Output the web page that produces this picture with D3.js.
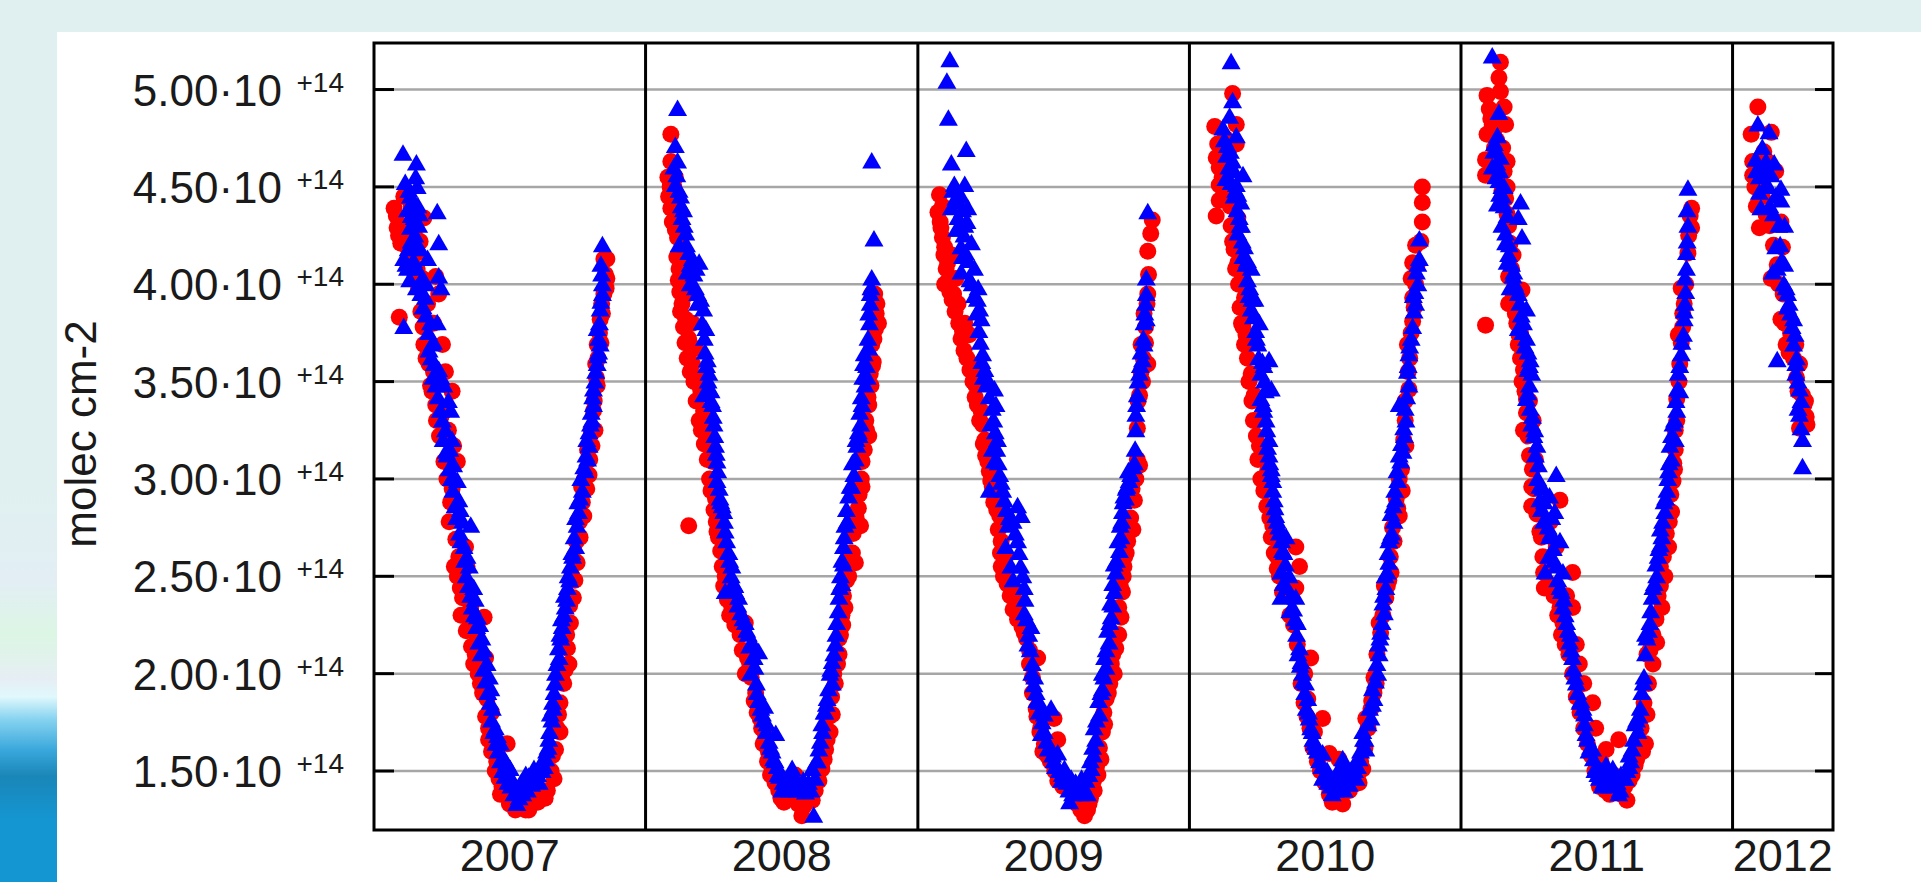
<!doctype html>
<head>
  <script src="https://cdnjs.cloudflare.com/ajax/libs/d3/7.8.5/d3.min.js"></script>
  <style>
    body { margin: 0; background: #e0f0f0; overflow: hidden; }
    svg { display: block; }
    text { font-family: "Liberation Sans", Arial, Helvetica, sans-serif; fill: #1a1a1a; }
  </style>
</head>
<body>
  <svg class="chart" width="1921" height="882"></svg>
  <script type="text/javascript">
    // values in units of 1e14 molec cm-2, x is day of year
    var years = [2007, 2008, 2009, 2010, 2011, 2012]
    var yTicks = [1.5, 2.0, 2.5, 3.0, 3.5, 4.0, 4.5, 5.0]
    var yTickLabels = ["1.50·10", "2.00·10", "2.50·10", "3.00·10", "3.50·10", "4.00·10", "4.50·10", "5.00·10"]
    var tickExponent = "+14"
    var yTitle = "molec cm-2"

    var red2007 = [[27,4.39],[31,4.29],[36,4.21],[40,4.45],[45,4.26],[54,4.26],[58,4.16],[67,4.34],[34,3.83],[87,3.95],[83,4.04],[58,4.08],[65,4.03],[72,3.90],[67,3.69],[74,3.59],[76,3.48],[92,3.69],[83,3.38],[90,3.32],[105,3.45],[107,3.17],[94,3.09],[112,3.09],[101,2.78],[110,2.69],[116,2.44],[119,2.39],[123,2.65],[130,2.34],[148,2.29],[134,2.05],[150,2.08],[143,1.95],[152,1.87],[154,1.72],[161,1.61],[168,1.46],[179,1.64],[177,1.38],[188,1.35],[204,1.30],[215,1.35],[233,1.40],[242,1.46],[244,1.61],[248,1.79],[255,1.95],[260,2.13],[264,2.26],[268,2.39],[273,2.57],[277,2.70],[282,2.81],[289,3.02],[293,3.17],[295,3.35],[300,3.48],[298,3.59],[300,3.69],[304,3.82],[309,3.95],[313,4.03],[313,4.13],[309,4.13],
      [50,4.40],[62,4.22],[80,3.80],[96,3.55],[100,3.25],[125,2.55],[138,2.20],[158,1.80],[165,1.55],[172,1.42],[195,1.32],[225,1.38],[250,1.70],[262,2.05],[270,2.48],[280,2.88],[286,2.95],[297,3.25],[303,3.75],[306,3.90],
      [30,4.35],[33,4.25],[38,4.30],[43,4.20],[47,4.15],[52,4.18],[55,4.05],[60,3.98],[63,3.86],[66,3.78],[70,3.62],[72,3.70],[78,3.45],[80,3.55],[84,3.30],[88,3.22],[95,3.35],[98,3.00],[103,2.88],[105,2.95],[108,2.55],[112,2.50],[114,2.60],[117,2.30],[120,2.45],[124,2.22],[128,2.28],[131,2.14],[136,2.10],[140,2.00],[146,1.90],[150,1.78],[154,1.66],[158,1.60],[163,1.50],[170,1.38],[175,1.45],[182,1.33],[190,1.30],[198,1.31],[208,1.30],[220,1.34],[230,1.36],[238,1.50],[240,1.58],[246,1.72],[250,1.85],[252,1.98],[257,2.02],[259,2.20],[263,2.35],[266,2.50],[270,2.58],[272,2.68],[276,2.78],[279,2.96],[283,3.00],[287,3.15],[290,3.10],[292,3.25],[296,3.40],[299,3.52],[301,3.62],[305,3.70],[307,3.85],[311,4.05],[312,3.98]]
    var blue2007 = [[39,4.67],[57,4.62],[56,4.55],[58,4.50],[49,4.45],[45,4.38],[54,4.34],[49,4.29],[85,4.37],[87,4.21],[40,4.13],[45,4.08],[58,4.08],[72,4.13],[40,3.78],[65,4.03],[69,3.93],[87,4.04],[90,3.98],[76,3.80],[85,3.80],[78,3.69],[81,3.59],[87,3.56],[94,3.48],[103,3.35],[96,3.25],[105,3.20],[98,3.12],[107,3.07],[112,2.99],[114,2.89],[119,2.78],[130,2.76],[121,2.65],[128,2.55],[134,2.44],[139,2.29],[145,2.18],[152,2.05],[157,1.92],[159,1.82],[163,1.72],[170,1.64],[175,1.56],[183,1.51],[192,1.40],[192,1.33],[204,1.48],[206,1.40],[215,1.51],[224,1.51],[228,1.56],[235,1.66],[237,1.79],[242,1.90],[244,2.00],[248,2.13],[253,2.24],[257,2.34],[260,2.44],[264,2.55],[271,2.65],[273,2.76],[275,2.83],[280,2.94],[284,3.04],[289,3.17],[291,3.28],[295,3.38],[295,3.46],[300,3.59],[304,3.69],[300,3.77],[304,3.87],[307,3.95],[307,4.20],
      [52,4.42],[60,4.30],[62,4.18],[70,4.00],[80,3.70],[90,3.52],[100,3.40],[102,3.15],[116,2.84],[125,2.60],[136,2.38],[142,2.25],[148,2.12],[155,1.98],[166,1.68],[178,1.54],[186,1.45],[198,1.44],[210,1.45],[220,1.48],[232,1.60],[240,1.85],[251,2.18],[267,2.60],[287,3.10],[293,3.30],[302,3.65],[306,4.05],[305,4.10],
      [42,4.52],[47,4.48],[50,4.35],[53,4.40],[55,4.25],[56,4.20],[59,4.40],[61,4.36],[50,4.22],[46,4.18],[43,4.10],[48,4.02],[53,4.12],[57,3.98],[63,3.95],[66,3.88],[70,3.84],[73,3.75],[74,3.66],[77,3.62],[79,3.52],[83,3.48],[86,3.42],[89,3.35],[92,3.30],[93,3.20],[97,3.14],[101,3.05],[104,3.00],[106,2.94],[109,2.86],[111,2.80],[115,2.72],[117,2.68],[122,2.58],[124,2.50],[127,2.45],[130,2.40],[132,2.34],[135,2.30],[138,2.24],[141,2.16],[144,2.10],[147,2.02],[150,1.96],[153,1.90],[156,1.85],[158,1.76],[161,1.70],[164,1.64],[167,1.60],[170,1.55],[173,1.50],[176,1.47],[180,1.44],[184,1.42],[188,1.38],[195,1.36],[200,1.38],[202,1.42],[208,1.47],[212,1.43],[218,1.46],[222,1.44],[226,1.50],[229,1.52],[231,1.56],[234,1.62],[236,1.70],[239,1.76],[241,1.82],[243,1.95],[246,2.05],[249,2.08],[250,2.20],[252,2.28],[255,2.30],[256,2.40],[259,2.38],[261,2.50],[263,2.48],[266,2.62],[269,2.70],[271,2.80],[274,2.88],[277,2.90],[278,3.00],[282,3.06],[285,3.12],[286,3.20],[289,3.24],[292,3.34],[294,3.42],[297,3.50],[298,3.55],[301,3.63],[302,3.72],[303,3.80],[305,3.91],[307,4.00]]

    var red2008 = [[34,4.77],[34,4.63],[40,4.55],[31,4.45],[34,4.39],[45,4.34],[43,4.24],[49,4.19],[45,4.08],[49,4.00],[49,3.90],[54,3.82],[63,3.80],[58,3.72],[67,3.67],[63,3.59],[74,3.46],[78,3.35],[85,3.17],[90,3.09],[94,2.90],[58,2.76],[96,2.73],[101,2.63],[107,2.50],[116,2.34],[134,2.26],[134,2.00],[148,1.90],[154,1.77],[161,1.69],[170,1.51],[179,1.40],[201,1.48],[210,1.27],[224,1.35],[237,1.51],[242,1.61],[251,1.79],[255,1.95],[260,2.10],[260,2.18],[268,2.34],[273,2.50],[282,2.57],[289,2.76],[291,2.96],[291,3.09],[300,3.22],[300,3.38],[302,3.54],[304,3.69],[309,3.77],[313,3.80],[311,3.90],[304,3.95],
      [38,4.50],[52,4.12],[56,3.95],[70,3.52],[82,3.25],[100,2.80],[112,2.42],[125,2.30],[140,2.05],[165,1.60],[190,1.38],[215,1.42],[248,1.70],[265,2.25],[278,2.62],[286,2.85],[296,3.30],[306,3.60],
      [30,4.55],[33,4.50],[36,4.42],[36,4.32],[40,4.28],[42,4.14],[44,4.02],[46,3.96],[47,3.86],[51,3.78],[53,3.70],[56,3.62],[60,3.55],[65,3.50],[68,3.40],[72,3.30],[75,3.25],[79,3.18],[83,3.10],[86,3.00],[88,2.94],[92,2.84],[95,2.78],[98,2.70],[103,2.55],[105,2.45],[110,2.38],[113,2.30],[120,2.25],[127,2.20],[130,2.12],[137,2.08],[142,1.98],[146,1.86],[150,1.80],[156,1.72],[158,1.64],[164,1.55],[168,1.48],[174,1.44],[182,1.36],[186,1.34],[195,1.36],[205,1.33],[213,1.32],[218,1.35],[228,1.40],[233,1.45],[240,1.56],[244,1.66],[247,1.78],[250,1.88],[253,2.00],[258,2.05],[262,2.20],[264,2.30],[266,2.40],[270,2.48],[275,2.62],[279,2.72],[283,2.80],[287,2.92],[290,3.00],[294,3.15],[297,3.25],[299,3.42],[303,3.48],[305,3.58],[307,3.72],[310,3.85],[308,3.95]]
    var blue2008 = [[43,4.90],[40,4.71],[43,4.63],[40,4.51],[47,4.45],[49,4.34],[54,4.26],[63,4.13],[72,4.11],[56,4.06],[67,3.98],[78,3.87],[81,3.77],[83,3.61],[85,3.54],[78,3.43],[90,3.38],[92,3.28],[94,3.17],[96,3.09],[96,2.99],[105,2.83],[107,2.73],[116,2.55],[107,2.42],[125,2.39],[134,2.26],[143,2.16],[152,2.11],[141,2.00],[150,1.90],[157,1.79],[163,1.74],[175,1.69],[172,1.56],[183,1.40],[197,1.51],[206,1.43],[224,1.51],[226,1.27],[233,1.61],[237,1.74],[244,1.87],[251,1.95],[253,2.10],[257,2.26],[260,2.39],[262,2.50],[266,2.65],[268,2.76],[273,2.91],[280,3.02],[284,3.17],[289,3.28],[291,3.38],[295,3.48],[293,3.59],[300,3.67],[300,3.85],[304,4.03],[307,4.23],[304,4.63],
      [45,4.20],[60,4.00],[70,3.90],[88,3.45],[100,2.90],[112,2.62],[120,2.45],[138,2.20],[146,2.08],[160,1.83],[168,1.62],[178,1.48],[190,1.45],[212,1.45],[230,1.55],[240,1.80],[248,2.00],[264,2.58],[277,2.96],[287,3.22],[298,3.52],[302,3.95],
      [38,4.60],[42,4.56],[45,4.48],[48,4.40],[51,4.38],[52,4.30],[55,4.20],[58,4.16],[60,4.10],[65,4.05],[68,4.08],[70,3.95],[74,3.92],[76,3.80],[79,3.72],[80,3.65],[82,3.58],[84,3.50],[86,3.46],[88,3.40],[91,3.32],[93,3.22],[95,3.13],[97,3.04],[99,2.95],[101,2.88],[103,2.86],[106,2.78],[109,2.68],[111,2.62],[113,2.58],[115,2.50],[118,2.46],[121,2.42],[124,2.35],[128,2.31],[131,2.28],[136,2.22],[140,2.14],[144,2.08],[147,2.03],[149,1.95],[152,1.86],[155,1.82],[159,1.76],[162,1.70],[166,1.65],[170,1.60],[174,1.55],[177,1.52],[180,1.47],[185,1.44],[188,1.42],[193,1.40],[196,1.44],[200,1.47],[204,1.40],[209,1.42],[215,1.39],[219,1.44],[222,1.40],[228,1.46],[231,1.55],[235,1.65],[238,1.70],[241,1.80],[243,1.84],[246,1.92],[249,2.02],[251,2.06],[255,2.15],[256,2.20],[259,2.32],[261,2.44],[264,2.46],[266,2.56],[267,2.70],[270,2.84],[271,2.78],[275,2.96],[278,3.08],[282,3.10],[283,3.20],[286,3.24],[288,3.34],[290,3.42],[292,3.52],[294,3.64],[297,3.58],[299,3.72],[301,3.80],[302,3.90],[303,3.98]]

    var red2009 = [[29,4.46],[27,4.37],[31,4.29],[36,4.19],[40,4.11],[36,4.00],[51,4.03],[54,3.90],[58,3.72],[69,3.74],[72,3.59],[78,3.48],[85,3.35],[87,3.28],[94,3.09],[98,2.99],[110,2.81],[112,2.68],[112,2.55],[125,2.44],[132,2.37],[143,2.21],[161,2.08],[154,1.98],[159,1.82],[183,1.77],[170,1.64],[188,1.66],[192,1.48],[215,1.40],[219,1.30],[224,1.27],[237,1.40],[246,1.56],[251,1.74],[253,1.87],[264,2.00],[266,2.13],[273,2.29],[275,2.42],[277,2.55],[284,2.73],[289,2.74],[291,2.89],[298,3.07],[295,3.26],[298,3.43],[309,3.59],[300,3.69],[304,3.85],[309,3.95],[309,4.17],[313,4.26],[315,4.33],
      [33,4.40],[45,4.15],[48,3.95],[63,3.80],[75,3.55],[90,3.20],[104,2.90],[118,2.60],[138,2.30],[150,2.12],[165,1.72],[178,1.55],[200,1.42],[230,1.33],[242,1.48],[258,1.95],[270,2.20],[280,2.62],[293,3.00],[302,3.50],[306,3.78],
      [30,4.32],[33,4.24],[35,4.15],[38,4.08],[41,4.02],[43,3.96],[46,3.92],[50,3.86],[55,3.80],[60,3.76],[62,3.66],[66,3.62],[70,3.56],[74,3.50],[77,3.42],[80,3.38],[83,3.30],[88,3.18],[91,3.12],[96,3.04],[100,2.96],[102,2.88],[106,2.84],[108,2.74],[111,2.62],[115,2.50],[120,2.46],[124,2.40],[128,2.33],[134,2.28],[140,2.24],[146,2.18],[150,2.05],[154,1.90],[160,1.78],[164,1.70],[168,1.60],[174,1.58],[180,1.62],[184,1.50],[188,1.45],[195,1.42],[205,1.40],[210,1.35],[214,1.33],[220,1.30],[228,1.30],[232,1.36],[236,1.45],[240,1.52],[244,1.62],[248,1.70],[250,1.80],[256,1.90],[260,2.05],[262,2.10],[268,2.20],[270,2.34],[272,2.45],[276,2.50],[278,2.60],[282,2.68],[286,2.80],[288,2.95],[290,3.00],[295,3.10],[296,3.40],[300,3.55],[303,3.62],[306,3.70],[308,3.90],[310,4.05]]
    var blue2009 = [[43,5.15],[39,5.04],[41,4.85],[65,4.69],[45,4.62],[49,4.51],[63,4.51],[58,4.45],[67,4.39],[45,4.39],[54,4.34],[72,4.21],[58,4.19],[76,4.08],[58,4.06],[81,3.98],[83,3.87],[85,3.82],[87,3.64],[90,3.56],[103,3.46],[105,3.38],[98,3.28],[107,3.20],[103,3.09],[110,3.02],[96,2.94],[116,2.89],[134,2.86],[139,2.81],[121,2.76],[134,2.68],[125,2.55],[143,2.44],[143,2.31],[152,2.24],[154,2.05],[159,1.90],[170,1.79],[179,1.82],[166,1.69],[175,1.61],[188,1.59],[197,1.51],[206,1.46],[204,1.34],[215,1.40],[228,1.38],[233,1.51],[239,1.66],[244,1.79],[248,1.92],[253,2.03],[257,2.16],[260,2.29],[264,2.42],[266,2.52],[271,2.63],[273,2.70],[275,2.83],[277,2.91],[284,2.99],[291,3.08],[293,3.25],[293,3.33],[295,3.43],[298,3.54],[302,3.61],[304,3.69],[304,3.80],[307,3.82],[307,4.03],[309,4.37],
      [52,4.28],[62,4.25],[70,4.02],[80,3.92],[95,3.50],[100,3.15],[118,2.65],[128,2.48],[148,2.15],[157,1.98],[163,1.85],[183,1.55],[193,1.45],[210,1.43],[222,1.42],[236,1.58],[250,1.98],[262,2.35],[280,2.95],[300,3.65],[306,3.90],
      [47,4.48],[51,4.44],[55,4.42],[60,4.38],[63,4.30],[66,4.32],[56,4.28],[60,4.14],[64,4.16],[68,4.12],[73,4.00],[76,3.94],[79,3.85],[82,3.76],[84,3.70],[86,3.60],[88,3.52],[92,3.48],[96,3.42],[100,3.36],[102,3.30],[104,3.24],[106,3.15],[108,3.08],[112,2.98],[114,2.94],[119,2.84],[123,2.80],[128,2.78],[131,2.72],[136,2.62],[138,2.55],[141,2.50],[144,2.38],[146,2.28],[149,2.20],[151,2.12],[153,2.00],[156,1.94],[160,1.86],[163,1.80],[167,1.75],[170,1.70],[173,1.65],[178,1.62],[181,1.58],[185,1.52],[190,1.50],[194,1.48],[200,1.44],[203,1.40],[208,1.38],[212,1.44],[218,1.38],[220,1.46],[224,1.40],[226,1.45],[230,1.48],[232,1.55],[235,1.62],[237,1.72],[240,1.76],[243,1.86],[246,1.90],[248,2.00],[251,2.08],[253,2.12],[255,2.22],[258,2.26],[259,2.36],[262,2.46],[264,2.56],[267,2.58],[269,2.68],[272,2.76],[274,2.78],[276,2.88],[279,2.90],[281,2.96],[283,3.04],[286,3.02],[289,3.06],[292,3.15],[294,3.38],[296,3.50],[299,3.58],[303,3.72],[305,3.85],[307,3.95]]

    var red2010 = [[58,4.98],[34,4.81],[36,4.65],[63,4.82],[63,4.72],[40,4.51],[40,4.43],[36,4.35],[63,4.42],[65,4.34],[65,4.11],[72,4.03],[74,3.93],[76,3.74],[74,3.69],[83,3.54],[87,3.43],[94,3.17],[105,3.04],[112,2.76],[143,2.65],[121,2.50],[148,2.55],[143,2.44],[163,2.08],[159,1.87],[179,1.77],[188,1.59],[201,1.56],[206,1.33],[233,1.51],[237,1.77],[244,1.82],[251,1.95],[257,2.21],[264,2.39],[271,2.52],[275,2.68],[282,2.81],[286,2.94],[291,3.17],[295,3.46],[293,3.69],[300,3.81],[300,3.93],[298,4.03],[300,4.11],[313,4.32],[313,4.42],[313,4.50],
      [48,4.75],[52,4.60],[55,4.40],[80,3.85],[90,3.30],[100,3.10],[118,2.60],[130,2.45],[155,2.00],[168,1.70],[195,1.45],[215,1.40],[228,1.44],[248,1.90],[266,2.45],[280,2.85],[290,3.30],[304,4.20],
      [38,4.72],[40,4.60],[44,4.55],[46,4.48],[50,4.45],[56,4.30],[58,4.22],[60,4.18],[62,4.08],[66,4.00],[68,3.88],[70,3.80],[72,3.78],[78,3.62],[80,3.50],[84,3.40],[86,3.30],[90,3.22],[92,3.10],[96,3.00],[100,2.94],[104,2.86],[108,2.80],[110,2.70],[114,2.62],[118,2.54],[125,2.42],[135,2.30],[140,2.25],[145,2.15],[150,1.95],[154,1.85],[158,1.78],[162,1.72],[166,1.62],[172,1.55],[176,1.50],[182,1.44],[188,1.38],[192,1.34],[200,1.38],[210,1.42],[220,1.45],[226,1.48],[230,1.55],[236,1.62],[240,1.72],[245,1.86],[248,1.98],[252,2.10],[255,2.26],[260,2.30],[262,2.45],[268,2.48],[270,2.60],[273,2.75],[278,2.90],[282,3.00],[285,3.05],[288,3.20],[290,3.40],[294,3.55],[296,3.62],[298,3.75],[302,3.88],[304,4.00],[306,4.10],[311,4.22]]
    var blue2010 = [[56,5.14],[58,4.94],[54,4.86],[45,4.80],[63,4.76],[51,4.71],[58,4.63],[72,4.56],[49,4.54],[63,4.51],[69,4.42],[67,4.34],[65,4.26],[74,4.19],[83,4.08],[81,3.98],[83,3.87],[94,3.80],[92,3.69],[107,3.61],[96,3.54],[110,3.46],[96,3.41],[103,3.30],[107,3.20],[107,3.12],[112,2.99],[114,2.89],[116,2.81],[130,2.70],[125,2.63],[123,2.52],[134,2.50],[123,2.39],[143,2.39],[145,2.26],[148,2.13],[152,2.00],[159,1.87],[161,1.77],[166,1.66],[179,1.59],[179,1.46],[192,1.38],[206,1.56],[215,1.43],[224,1.46],[228,1.56],[237,1.61],[244,1.77],[248,1.87],[253,2.00],[255,2.10],[257,2.21],[262,2.31],[264,2.44],[268,2.57],[268,2.68],[275,2.78],[277,2.89],[280,2.99],[284,3.09],[289,3.22],[291,3.30],[282,3.38],[295,3.48],[295,3.64],[304,3.90],[307,4.00],[309,4.13],[309,4.23],
      [60,4.45],[70,4.30],[78,4.12],[88,3.92],[100,3.58],[100,3.35],[110,3.05],[120,2.75],[135,2.32],[150,2.06],[156,1.95],[170,1.62],[185,1.50],[198,1.45],[210,1.50],[220,1.52],[234,1.66],[246,1.92],[260,2.36],[272,2.72],[287,3.14],[293,3.55],[300,3.78],[302,3.86],
      [47,4.74],[50,4.66],[53,4.60],[55,4.68],[56,4.52],[60,4.58],[62,4.48],[65,4.46],[64,4.38],[68,4.30],[71,4.22],[72,4.14],[76,4.10],[78,4.02],[80,3.94],[84,3.92],[86,3.83],[89,3.76],[90,3.72],[93,3.62],[98,3.60],[101,3.50],[102,3.45],[99,3.38],[104,3.25],[105,3.16],[108,3.08],[110,3.02],[112,2.94],[115,2.85],[118,2.78],[121,2.72],[124,2.68],[127,2.62],[129,2.56],[126,2.46],[131,2.44],[137,2.40],[140,2.33],[142,2.28],[144,2.20],[146,2.10],[149,2.04],[153,1.96],[155,1.90],[157,1.82],[160,1.80],[163,1.72],[165,1.70],[168,1.64],[172,1.60],[175,1.55],[178,1.52],[182,1.48],[186,1.44],[190,1.42],[194,1.44],[196,1.40],[200,1.48],[203,1.52],[206,1.46],[208,1.40],[212,1.48],[217,1.50],[222,1.50],[226,1.52],[230,1.60],[233,1.70],[236,1.66],[240,1.74],[242,1.82],[246,1.84],[250,1.96],[252,2.05],[254,2.15],[256,2.18],[259,2.26],[261,2.40],[263,2.50],[266,2.52],[267,2.62],[270,2.70],[271,2.82],[274,2.86],[276,2.94],[279,3.04],[282,3.12],[285,3.18],[288,3.26],[290,3.36],[292,3.42],[294,3.58],[296,3.68],[298,3.72],[301,3.94],[303,3.96],[305,4.06],[307,4.10]]

    var red2011 = [[33,3.79],[53,5.14],[51,5.06],[53,4.99],[35,4.97],[58,4.91],[60,4.82],[35,4.77],[33,4.64],[62,4.63],[33,4.56],[62,4.36],[66,4.21],[64,4.04],[82,3.97],[64,3.90],[73,3.85],[77,3.69],[84,3.56],[88,3.41],[84,3.25],[97,3.30],[95,2.96],[95,2.86],[133,2.89],[106,2.73],[128,2.65],[111,2.52],[150,2.52],[133,2.34],[137,2.26],[150,2.34],[159,2.05],[177,1.85],[181,1.72],[195,1.61],[212,1.66],[223,1.35],[234,1.53],[248,1.64],[250,1.79],[252,1.95],[263,2.16],[270,2.34],[274,2.50],[279,2.65],[283,2.83],[285,2.99],[288,3.15],[290,3.41],[294,3.59],[292,3.74],[296,3.98],[305,4.16],[310,4.29],[310,4.39],
      [40,4.85],[45,4.70],[55,4.48],[70,4.15],[80,3.75],[92,3.40],[100,3.10],[120,2.78],[142,2.40],[155,2.15],[165,1.95],[188,1.55],[205,1.48],[218,1.45],[244,1.60],[258,2.05],[268,2.45],[287,3.05],[298,3.85],
      [38,4.90],[42,4.82],[44,4.78],[48,4.74],[56,4.70],[58,4.58],[62,4.50],[60,4.44],[64,4.30],[68,4.08],[70,3.95],[75,3.80],[78,3.74],[80,3.62],[82,3.50],[86,3.45],[88,3.34],[90,3.22],[92,3.12],[96,3.05],[98,2.95],[102,2.82],[108,2.70],[110,2.60],[112,2.44],[118,2.46],[125,2.40],[130,2.30],[135,2.20],[140,2.15],[145,2.10],[150,2.00],[155,1.88],[160,1.80],[165,1.72],[170,1.64],[175,1.58],[180,1.50],[186,1.42],[194,1.40],[200,1.38],[210,1.40],[216,1.38],[220,1.42],[226,1.45],[230,1.48],[236,1.56],[240,1.60],[242,1.72],[246,1.85],[250,2.10],[254,2.12],[258,2.20],[262,2.28],[265,2.40],[268,2.55],[272,2.60],[276,2.72],[280,2.78],[282,2.92],[286,3.08],[288,3.25],[290,3.30],[293,3.50],[296,3.70],[298,3.78],[300,3.90],[302,4.00],[306,4.25],[308,4.35]]
    var blue2011 = [[42,5.17],[51,4.88],[49,4.76],[44,4.68],[53,4.65],[42,4.60],[51,4.53],[58,4.50],[49,4.41],[80,4.42],[77,4.34],[82,4.24],[55,4.30],[60,4.21],[62,4.11],[71,4.06],[66,3.98],[77,3.95],[88,3.87],[77,3.77],[88,3.72],[93,3.61],[95,3.54],[88,3.41],[95,3.28],[102,3.17],[104,3.07],[128,3.02],[106,2.89],[119,2.91],[126,2.83],[111,2.78],[119,2.70],[133,2.68],[113,2.52],[137,2.52],[133,2.44],[142,2.26],[146,2.16],[150,2.08],[155,1.95],[166,1.79],[168,1.69],[177,1.61],[186,1.46],[195,1.53],[204,1.51],[212,1.38],[221,1.46],[230,1.61],[234,1.74],[241,1.82],[246,1.98],[250,2.18],[254,2.26],[257,2.39],[263,2.50],[265,2.60],[270,2.70],[274,2.83],[277,2.94],[279,3.04],[281,3.17],[285,3.28],[290,3.35],[292,3.54],[296,3.64],[299,3.74],[301,3.90],[301,4.03],[303,4.16],[305,4.30],[305,4.49],
      [47,4.55],[56,4.45],[64,4.15],[72,4.00],[84,3.80],[90,3.65],[92,3.48],[98,3.22],[110,2.95],[122,2.80],[125,2.58],[138,2.38],[148,2.12],[160,1.85],[172,1.60],[182,1.52],[192,1.44],[200,1.42],[215,1.48],[226,1.52],[238,1.70],[248,2.10],[268,2.66],[283,3.10],[288,3.20],[294,3.45],[300,3.82],
      [45,4.72],[48,4.62],[52,4.58],[55,4.50],[52,4.46],[58,4.40],[62,4.35],[60,4.26],[65,4.20],[68,4.10],[70,4.04],[74,3.98],[79,3.90],[81,3.84],[83,3.75],[86,3.68],[90,3.56],[92,3.58],[90,3.44],[93,3.36],[96,3.32],[99,3.25],[100,3.12],[103,3.00],[106,2.96],[108,2.84],[112,2.88],[115,2.80],[117,2.75],[121,2.72],[124,2.64],[118,2.60],[128,2.55],[130,2.48],[135,2.42],[137,2.34],[140,2.30],[144,2.22],[147,2.20],[151,2.02],[153,1.98],[157,1.90],[161,1.86],[164,1.82],[166,1.74],[170,1.66],[174,1.62],[178,1.56],[180,1.50],[184,1.48],[188,1.50],[190,1.42],[197,1.46],[202,1.44],[207,1.48],[210,1.44],[214,1.40],[218,1.46],[223,1.50],[226,1.58],[228,1.55],[232,1.66],[236,1.76],[239,1.78],[243,1.90],[245,1.95],[248,2.20],[252,2.22],[255,2.32],[258,2.44],[260,2.46],[262,2.56],[266,2.64],[268,2.74],[271,2.78],[273,2.88],[275,2.90],[278,3.00],[280,3.08],[283,3.22],[287,3.30],[289,3.40],[291,3.46],[294,3.58],[297,3.70],[300,3.86],[302,3.96],[303,4.08],[304,4.22],[304,4.38]]

    var red2012 = [[34,4.91],[25,4.77],[27,4.63],[52,4.78],[27,4.56],[36,4.29],[65,4.32],[67,4.19],[52,4.03],[65,3.82],[72,3.69],[90,3.59],[94,3.43],[90,3.26],[99,3.32],[47,4.63],[58,4.58],[85,3.69],[40,4.45],[60,4.10],[78,3.75],[96,3.38],
      [30,4.50],[32,4.40],[38,4.52],[42,4.68],[45,4.36],[50,4.30],[55,4.20],[62,4.00],[68,3.95],[70,3.80],[76,3.65],[82,3.62],[86,3.52],[88,3.45],[92,3.36],[96,3.28],[100,3.28],[98,3.40]]
    var blue2012 = [[34,4.82],[49,4.78],[31,4.64],[45,4.63],[56,4.62],[36,4.55],[52,4.56],[65,4.49],[36,4.47],[65,4.43],[38,4.39],[58,4.19],[60,4.08],[54,4.06],[69,4.00],[76,3.90],[82,3.82],[60,3.61],[82,3.69],[85,3.59],[90,3.46],[90,3.33],[94,3.20],[94,3.06],[85,3.54],[44,4.50],[70,4.30],[74,3.95],
      [32,4.58],[40,4.70],[42,4.58],[48,4.50],[50,4.40],[55,4.36],[58,4.45],[62,4.30],[64,4.20],[66,4.12],[70,4.10],[72,3.98],[74,3.88],[78,3.85],[80,3.78],[84,3.74],[86,3.62],[88,3.50],[92,3.40],[88,3.36],[92,3.26]]

    var redSeries = [red2007, red2008, red2009, red2010, red2011, red2012]
    var blueSeries = [blue2007, blue2008, blue2009, blue2010, blue2011, blue2012]

    function toPoints(series) {
      var out = []
      series.forEach((arr, i) => arr.forEach(p => out.push({date: new Date(years[i], 0, 1 + p[0]), value: p[1]})))
      return out
    }
    var redPoints = toPoints(redSeries)
    var bluePoints = toPoints(blueSeries)

    var svg = d3.select("svg.chart")

    // page background pieces
    var defs = svg.append("defs")
    var grad = defs.append("linearGradient").attr("id", "strip").attr("x1", 0).attr("y1", 0).attr("x2", 0).attr("y2", 1)
    var stops = [[0, "#e0f0f0"], [0.55, "#e0f0f0"], [0.66, "#e2eef4"], [0.72, "#dcf6e4"], [0.77, "#e6eef4"], [0.79, "#e0f8fc"], [0.815, "#88d4f0"], [0.85, "#3aa8dc"], [0.88, "#1a86b8"], [0.93, "#1496d2"], [1, "#1496d2"]]
    stops.forEach(s => grad.append("stop").attr("offset", s[0]).attr("stop-color", s[1]))
    svg.append("rect").attr("x", 0).attr("y", 0).attr("width", 57).attr("height", 882).style("fill", "url(#strip)")
    svg.append("rect").attr("x", 57).attr("y", 32).attr("width", 1864).attr("height", 850).style("fill", "#fff")

    var pLeft = 374, pRight = 1833, pTop = 43, pBottom = 830
    var xScale = d3.scaleTime().domain([new Date(2007, 0, 1), new Date(2012, 4, 15)]).range([pLeft, pRight])
    var yScale = d3.scaleLinear().domain([1.197, 5.239]).range([pBottom, pTop])

    // grid
    svg.append("g").selectAll("line").data(yTicks).enter().append("line")
      .attr("x1", pLeft).attr("x2", pRight)
      .attr("y1", d => yScale(d)).attr("y2", d => yScale(d))
      .style("stroke", "#a6a6a6").style("stroke-width", "2.5px")

    var tri = "M0,-9.5L9.5,7L-9.5,7Z"

    svg.append("g").selectAll("circle").data(redPoints).enter().append("circle")
      .attr("cx", d => xScale(d.date)).attr("cy", d => yScale(d.value))
      .attr("r", 8.5).style("fill", "#ff0000")

    svg.append("g").selectAll("path").data(bluePoints).enter().append("path")
      .attr("d", tri)
      .attr("transform", d => "translate(" + xScale(d.date) + "," + yScale(d.value) + ")")
      .style("fill", "#0000ff")

    // year separators
    var sepYears = years.slice(1)
    svg.append("g").selectAll("line").data(sepYears).enter().append("line")
      .attr("x1", d => xScale(new Date(d, 0, 1))).attr("x2", d => xScale(new Date(d, 0, 1)))
      .attr("y1", pTop).attr("y2", pBottom)
      .style("stroke", "#000").style("stroke-width", "3px")

    // ticks both sides
    var ticks = svg.append("g")
    ticks.selectAll("line.l").data(yTicks).enter().append("line").attr("class", "l")
      .attr("x1", pLeft).attr("x2", pLeft + 20).attr("y1", d => yScale(d)).attr("y2", d => yScale(d))
      .style("stroke", "#000").style("stroke-width", "3px")
    ticks.selectAll("line.r").data(yTicks).enter().append("line").attr("class", "r")
      .attr("x1", pRight - 18).attr("x2", pRight).attr("y1", d => yScale(d)).attr("y2", d => yScale(d))
      .style("stroke", "#000").style("stroke-width", "3px")

    svg.append("rect").attr("x", pLeft).attr("y", pTop).attr("width", pRight - pLeft).attr("height", pBottom - pTop)
      .style("fill", "none").style("stroke", "#000").style("stroke-width", "3px")

    // y labels
    var labels = svg.append("g")
    labels.selectAll("text.m").data(yTicks).enter().append("text").attr("class", "m")
      .attr("x", 282).attr("y", d => yScale(d) + 16)
      .attr("text-anchor", "end").style("font-size", "44px")
      .text((d, i) => yTickLabels[i])
    labels.selectAll("text.s").data(yTicks).enter().append("text").attr("class", "s")
      .attr("x", 344).attr("y", d => yScale(d) + 2)
      .attr("text-anchor", "end").style("font-size", "28px")
      .text(tickExponent)

    // year labels
    svg.append("g").selectAll("text").data(years).enter().append("text")
      .attr("x", d => {
        var a = xScale(new Date(d, 0, 1)), b = d < 2012 ? xScale(new Date(d + 1, 0, 1)) : pRight
        return (a + b) / 2
      })
      .attr("y", 871).attr("text-anchor", "middle").style("font-size", "45px")
      .text(d => d)

    svg.append("text").attr("transform", "translate(96,434) rotate(-90)")
      .attr("text-anchor", "middle").style("font-size", "44px").text(yTitle)
  </script>
</body>
</html>
